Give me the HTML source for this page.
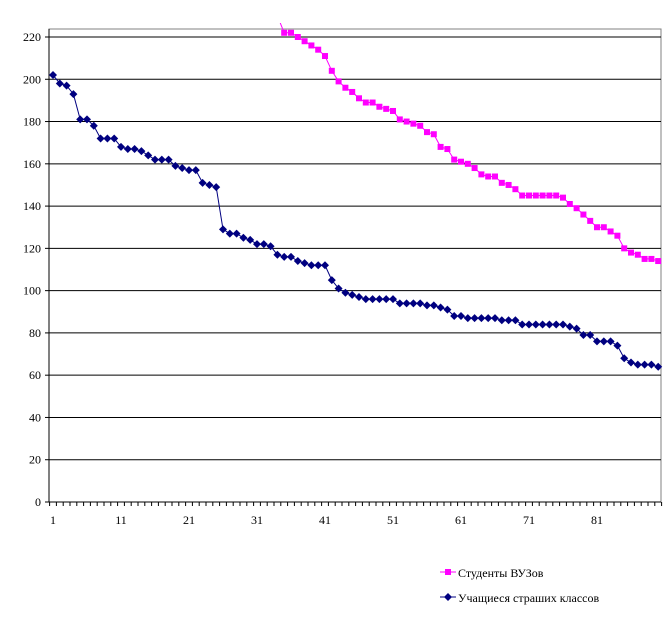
<!DOCTYPE html>
<html><head><meta charset="utf-8"><style>
body{margin:0;background:#fff;font-family:"Liberation Serif",serif;}
svg text{font-family:"Liberation Serif",serif;font-size:12px;fill:#000}
</style></head><body>
<svg width="668" height="612">
<g id="grid"></g>
<g id="axes"></g>
<g id="series"></g>
<g>
<g>
<line x1="440" y1="572" x2="456" y2="572" stroke="#ff00ff" stroke-width="1"/>
<rect x="445" y="569" width="6" height="6" fill="#ff00ff"/>
<text x="458" y="577">Студенты ВУЗов</text></g>
<g>
<line x1="440" y1="597" x2="456" y2="597" stroke="#000080" stroke-width="1"/>
<path d="M448,593 L452,597 L448,601 L444,597Z" fill="#000080"/>
<text x="458" y="602">Учащиеся страших классов</text></g>
</g>
</svg>
<script>
const pupils=[202,198,197,193,181,181,178,172,172,172,168,167,167,166,164,162,162,162,159,158,157,157,151,150,149,129,127,127,125,124,122,122,121,117,116,116,114,113,112,112,112,105,101,99,98,97,96,96,96,96,96,94,94,94,94,93,93,92,91,88,88,87,87,87,87,87,86,86,86,84,84,84,84,84,84,84,83,82,79,79,76,76,76,74,68,66,65,65,65,64];
const students=[null,null,null,null,null,null,null,null,null,null,null,null,null,null,null,null,null,null,null,null,null,null,null,null,null,null,null,null,null,null,null,null,null,230,222,222,220,218,216,214,211,204,199,196,194,191,189,189,187,186,185,181,180,179,178,175,174,168,167,162,161,160,158,155,154,154,151,150,148,145,145,145,145,145,145,144,141,139,136,133,130,130,128,126,120,118,117,115,115,114];
const yTicks=[0,20,40,60,80,100,120,140,160,180,200,220];
const xTicks=[1,11,21,31,41,51,61,71,81];
const NS="http://www.w3.org/2000/svg";
const L=49,R=661,T=29,B=502,yMax=220,y220=37;
const x=i=>53+(i-1)*6.8;
const y=v=>B-(v/yMax)*(B-y220);
function el(t,a,p){const e=document.createElementNS(NS,t);for(const k in a)e.setAttribute(k,a[k]);p.appendChild(e);return e;}
const grid=document.getElementById('grid'),axes=document.getElementById('axes'),ser=document.getElementById('series');
el('rect',{x:L,y:T,width:R-L,height:B-T,fill:'none',stroke:'#808080'},grid);
yTicks.forEach(v=>{
 const g=el('line',{x1:L,x2:R,y1:y(v),y2:y(v),stroke:'#000','stroke-width':1},grid);
 
 
 el('line',{x1:L-4,x2:L,y1:y(v),y2:y(v),stroke:'#000'},axes);
 const t=el('text',{x:L-8,y:y(v)+4,'text-anchor':'end'},axes);t.textContent=v;
 
 
});
el('line',{x1:L,x2:L,y1:T,y2:B,stroke:'#000'},axes);
el('line',{x1:L,x2:R,y1:B,y2:B,stroke:'#000'},axes);
for(let i=1;i<=91;i++){const xx=x(i)-3.4;el('line',{x1:xx,x2:xx,y1:B,y2:B+4,stroke:'#000'},axes);}
xTicks.forEach(v=>{const t=el('text',{x:x(v),y:B+22,'text-anchor':'middle','font-size':'11'},axes);t.textContent=v;
 
 });
const clip=el('clipPath',{id:'c'},ser);el('rect',{x:L,y:T-6,width:R-L+6,height:B-T+6},clip);
const g=el('g',{'clip-path':'url(#c)'},ser);
function line(data,col,name,marker){
 let d='';data.forEach((v,i)=>{if(v==null)return;d+=(d?'L':'M')+x(i+1)+','+y(v);});
 const p=el('path',{d:d,fill:'none',stroke:col,'stroke-width':1},g);
 
 
 data.forEach((v,i)=>{if(v==null||v>yMax+2)return;const cx=x(i+1),cy=y(v);let m;
  if(marker==='sq')m=el('rect',{x:cx-3,y:cy-3,width:6,height:6,fill:col},g);
  else m=el('path',{d:`M${cx},${cy-4}L${cx+4},${cy}L${cx},${cy+4}L${cx-4},${cy}Z`,fill:col},g);
  
  });
}
line(pupils,'#000080','pupils','dia');
line(students,'#ff00ff','students','sq');
</script>
</body></html>
